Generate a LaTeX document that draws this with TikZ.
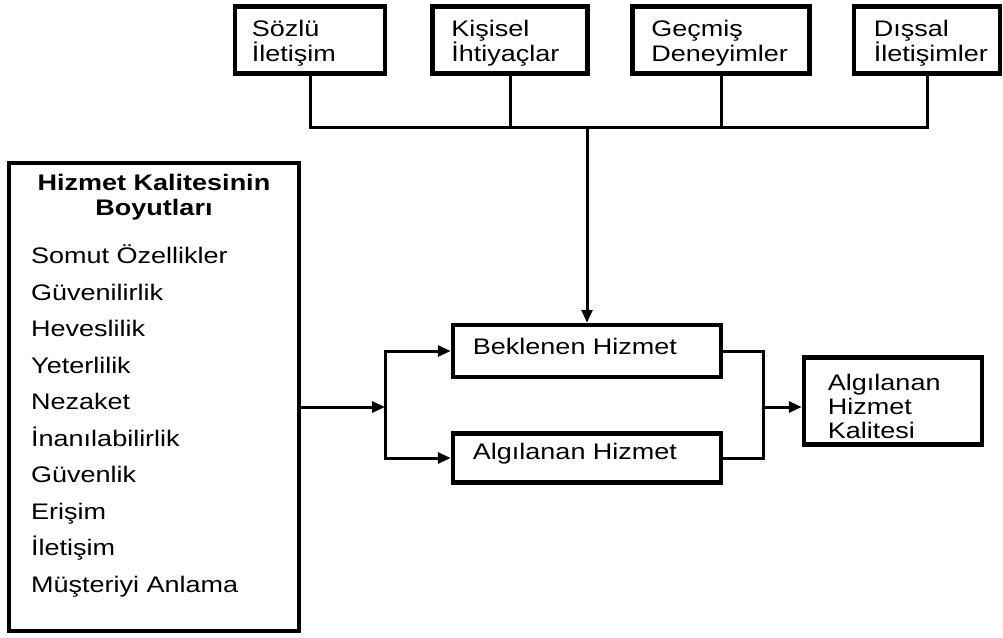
\documentclass[tikz,border=0pt]{standalone}
\usepackage{fontspec}
\setmainfont[FakeStretch=1.2]{Liberation Sans}
\usetikzlibrary{arrows.meta}
\begin{document}
\begin{tikzpicture}[x=1pt,y=-1pt,
  box/.style={draw, line width=4.5pt, rectangle, inner sep=0pt},
  conn/.style={line width=3pt},
  arr/.style={conn, -{Triangle[length=13pt,width=11pt]}},
  txt/.style={inner sep=0pt, align=left, font=\fontsize{22.5}{25.5}\selectfont}
]
\useasboundingbox (0,0) rectangle (1003,637);

% factors shaping the expected service
\node[box, minimum width=150pt, minimum height=67pt] (soz) at (310,40) {};
\node[box, minimum width=155pt, minimum height=67pt] (kis) at (510,40) {};
\node[box, minimum width=177pt, minimum height=67pt] (gec) at (721,40) {};
\node[box, minimum width=146pt, minimum height=67pt] (dis) at (927,40) {};
\node[txt, anchor=west] (sozt) at ([xshift=19pt,yshift=-3pt]soz.west) {Sözlü\\İletişim};
\node[txt, anchor=west] (kist) at ([xshift=21pt,yshift=-3pt]kis.west) {Kişisel\\İhtiyaçlar};
\node[txt, anchor=west] (gect) at ([xshift=21pt,yshift=-3pt]gec.west) {Geçmiş\\Deneyimler};
\node[txt, anchor=west] (dist) at ([xshift=22pt,yshift=-3pt]dis.west) {Dışsal\\İletişimler};

% dimensions box
\node[box, line width=4pt, minimum width=290pt, minimum height=468pt] (dim) at (154,397) {};
\node[txt, align=center, font=\fontsize{22.5}{25}\selectfont\bfseries] (dimt) at (154,197)
  {Hizmet Kalitesinin\\Boyutları};
\node[txt, anchor=west, font=\fontsize{22.5}{36.5}\selectfont] (diml) at (31,421)
  {Somut Özellikler\\Güvenilirlik\\Heveslilik\\Yeterlilik\\Nezaket\\İnanılabilirlik\\Güvenlik\\Erişim\\İletişim\\Müşteriyi Anlama};

% expected and perceived service
\node[box, minimum width=268pt, minimum height=52pt] (bek) at (587,351) {};
\node[txt, anchor=west] (bekt) at ([xshift=22pt,yshift=5pt]bek.west) {Beklenen Hizmet};
\node[box, minimum width=268pt, minimum height=49pt] (alg) at (587,458) {};
\node[txt, anchor=west] (algt) at ([xshift=22pt,yshift=4pt]alg.west) {Algılanan Hizmet};

% perceived service quality
\node[box, minimum width=178pt, minimum height=87pt] (kal) at (893,401) {};
\node[txt, anchor=west, font=\fontsize{22.5}{24}\selectfont] (kalt) at ([xshift=26pt,yshift=-5pt]kal.west)
  {Algılanan\\Hizmet\\Kalitesi};

% connectors
\coordinate (bus) at (0,127);
\coordinate (j1) at (385,407);
\coordinate (j2) at (763,407);
\draw[conn] (soz.south) -- (soz.south |- bus) -- (dis.south |- bus) -- (dis.south);
\draw[conn] (kis.south) -- (kis.south |- bus);
\draw[conn] (gec.south) -- (gec.south |- bus);
\draw[arr] (bek.north |- bus) -- (bek.north);

\draw[arr] (dim.east |- j1) -- (j1);
\draw[arr] (j1) |- (bek.west);
\draw[arr] (j1) |- (alg.west);

\draw[conn] (bek.east) -| (j2) |- (alg.east);
\draw[arr] (j2) -- (j2 -| kal.west);
\end{tikzpicture}
\end{document}
